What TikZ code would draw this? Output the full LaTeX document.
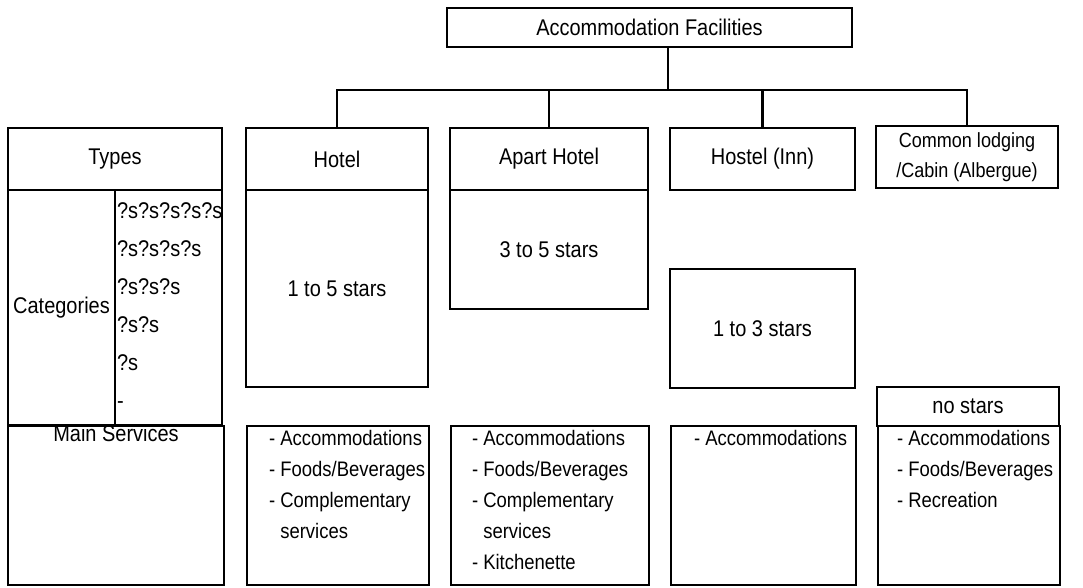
\documentclass[tikz,border=0pt]{standalone}
\usepackage{fontspec}
\setmainfont{Liberation Sans}[FakeStretch=0.88]
\usetikzlibrary{positioning}

\begin{document}
\begin{tikzpicture}[x=1pt, y=-1pt,
    box/.style={draw, line width=2.4pt, inner sep=0pt, font=\fontsize{22.7}{26}\selectfont},
    listtext/.style={inner sep=0pt, align=left, font=\fontsize{21}{31}\selectfont},
    link/.style={line width=2.4pt}]
    \useasboundingbox (0,0) rectangle (1083,587);

    % Top level
    \node[box, minimum width=405, minimum height=39] (top) at (649.5,27.5) {Accommodation Facilities};

    % Types of facility
    \node[box, minimum width=214, minimum height=62] (types) at (115,159) {Types};
    \node[box, minimum width=182, minimum height=62] (hotel) at (337,159) {Hotel};
    \node[box, minimum width=198, minimum height=62] (apart) at (549,159) {Apart Hotel};
    \node[box, minimum width=185, minimum height=62] (hostel) at (762.5,159) {Hostel (Inn)};
    \node[box, minimum width=182, minimum height=62, align=center,
          font=\fontsize{20.5}{30}\selectfont] (lodging) at (967,157) {Common lodging\\/Cabin (Albergue)};

    % Tree
    \coordinate (drop) at ([xshift=18.5pt]top.south);
    \coordinate (bus) at (drop |- 0,90);
    \draw[link] (drop) -- (bus);
    \draw[link] (hotel.north) |- (bus) -| (lodging.north);
    \draw[link] (apart.north) -- (apart.north |- bus);
    \draw[link] (hostel.north) -- (hostel.north |- bus);

    % Categories
    \node[box, minimum width=107, minimum height=235] (catname) at (61.5,307.5) {Categories};
    \node[box, minimum width=107, minimum height=235] (catstars) at (168.5,307.5) {};
    \node[listtext, font=\fontsize{22.7}{38}\selectfont, below right=13.5pt and 3pt of catstars.north west]
        (starlist) {?s?s?s?s?s\\?s?s?s?s\\?s?s?s\\?s?s\\?s\\-};

    \node[box, minimum width=182, minimum height=197] (hotelcat) at (337,288.5) {1 to 5 stars};
    \node[box, minimum width=198, minimum height=119] (apartcat) at (549,249.5) {3 to 5 stars};
    \node[box, minimum width=185, minimum height=119] (hostelcat) at (762.5,328.5) {1 to 3 stars};
    \node[box, minimum width=182, minimum height=39] (lodgingcat) at (968,406.5) {no stars};

    % Main services
    \node[box, minimum width=216, minimum height=159] (mainsvc) at (116,505.5) {};
    \node[inner sep=0pt, anchor=north, font=\fontsize{22.7}{26}\selectfont] (mainsvclabel) at (mainsvc.north) {Main Services};

    \node[box, minimum width=182, minimum height=159] (hotelsvc) at (338,505.5) {};
    \node[listtext, below right=5.5pt and 23pt of hotelsvc.north west] (hotelsvclist)
        {- Accommodations\\- Foods/Beverages\\- Complementary\\\phantom{- }services};

    \node[box, minimum width=198, minimum height=159] (apartsvc) at (550,505.5) {};
    \node[listtext, below right=5.5pt and 22pt of apartsvc.north west] (apartsvclist)
        {- Accommodations\\- Foods/Beverages\\- Complementary\\\phantom{- }services\\- Kitchenette};

    \node[box, minimum width=185, minimum height=159] (hostelsvc) at (763.5,505.5) {};
    \node[listtext, below right=5.5pt and 24pt of hostelsvc.north west] (hostelsvclist)
        {- Accommodations};

    \node[box, minimum width=182, minimum height=159] (lodgingsvc) at (969,505.5) {};
    \node[listtext, below right=5.5pt and 20pt of lodgingsvc.north west] (lodgingsvclist)
        {- Accommodations\\- Foods/Beverages\\- Recreation};
\end{tikzpicture}
\end{document}
